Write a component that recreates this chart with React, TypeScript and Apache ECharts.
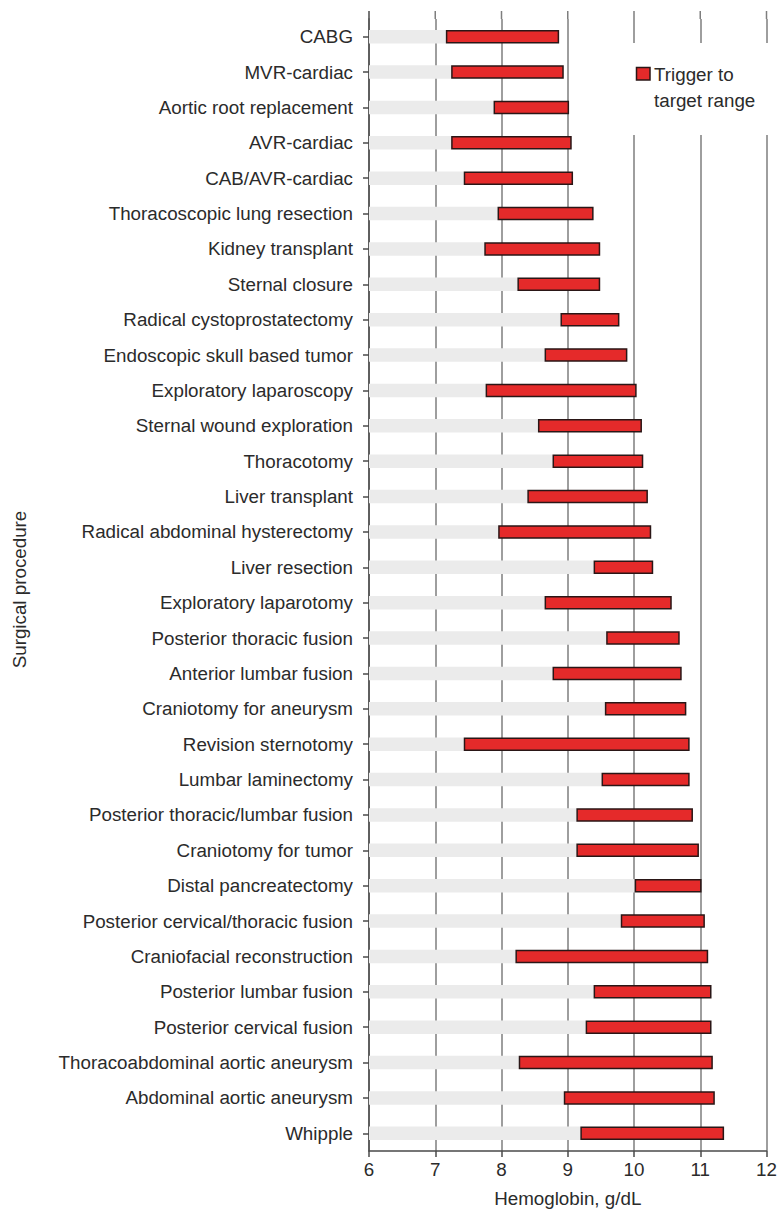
import React, { useEffect, useRef } from "react";
import * as echarts from "echarts";

const categories = [
  "CABG",
  "MVR-cardiac",
  "Aortic root replacement",
  "AVR-cardiac",
  "CAB/AVR-cardiac",
  "Thoracoscopic lung resection",
  "Kidney transplant",
  "Sternal closure",
  "Radical cystoprostatectomy",
  "Endoscopic skull based tumor",
  "Exploratory laparoscopy",
  "Sternal wound exploration",
  "Thoracotomy",
  "Liver transplant",
  "Radical abdominal hysterectomy",
  "Liver resection",
  "Exploratory laparotomy",
  "Posterior thoracic fusion",
  "Anterior lumbar fusion",
  "Craniotomy for aneurysm",
  "Revision sternotomy",
  "Lumbar laminectomy",
  "Posterior thoracic/lumbar fusion",
  "Craniotomy for tumor",
  "Distal pancreatectomy",
  "Posterior cervical/thoracic fusion",
  "Craniofacial reconstruction",
  "Posterior lumbar fusion",
  "Posterior cervical fusion",
  "Thoracoabdominal aortic aneurysm",
  "Abdominal aortic aneurysm",
  "Whipple",
];

// Transfusion trigger (start of range), g/dL
const triggerValues = [
  7.16, 7.24, 7.88, 7.24, 7.43, 7.94, 7.74, 8.24, 8.89, 8.65, 7.76, 8.55, 8.77,
  8.39, 7.95, 9.39, 8.65, 9.58, 8.77, 9.56, 7.43, 9.51, 9.13, 9.13, 10.01, 9.8,
  8.21, 9.39, 9.27, 8.26, 8.94, 9.19,
];

// Target (end of range), g/dL
const targetValues = [
  8.87, 8.94, 9.02, 9.06, 9.08, 9.39, 9.49, 9.49, 9.78, 9.9, 10.04, 10.12,
  10.14, 10.21, 10.26, 10.29, 10.57, 10.69, 10.72, 10.79, 10.84, 10.84, 10.89,
  10.98, 11.02, 11.07, 11.12, 11.17, 11.17, 11.19, 11.22, 11.36,
];

const xMin = 6;
const xMax = 12;
const xInterval = 1;

const legendLabel = "Trigger to\ntarget range";
const xAxisTitle = "Hemoglobin, g/dL";
const yAxisTitle = "Surgical procedure";

const RED = "#e52a2a";
const BORDER = "#2a1616";
const GRAY = "#ebebeb";
const TEXT = "#2b2b2b";
const GRID_LINE = "#7e7e7e";
const AXIS_LINE = "#4a4a4a";
const FONT = "'Liberation Sans', Arial, Helvetica, sans-serif";
const FS = 18.8;

export default function App() {
  const ref = useRef<HTMLDivElement>(null);

  useEffect(() => {
    if (!ref.current) return;
    const chart = echarts.init(ref.current, null, { renderer: "svg" });
    const gridTop = 19;
    const option: any = {
      animation: false,
      backgroundColor: "#ffffff",
      textStyle: { fontFamily: FONT },
      grid: { left: 369, right: 13.5, top: gridTop, bottom: 61.5, containLabel: false },
      xAxis: {
        type: "value",
        min: xMin,
        max: xMax,
        interval: xInterval,
        name: xAxisTitle,
        nameLocation: "middle",
        nameGap: 38,
        nameTextStyle: { fontSize: FS, color: TEXT, fontFamily: FONT },
        axisLine: { show: true, lineStyle: { color: AXIS_LINE, width: 1.5 } },
        axisTick: { show: true, length: 6, lineStyle: { color: AXIS_LINE, width: 1.5 } },
        axisLabel: { fontSize: FS, color: TEXT, margin: 9, fontFamily: FONT },
        splitLine: { show: true, lineStyle: { color: GRID_LINE, width: 1.5 } },
      },
      yAxis: {
        type: "category",
        inverse: true,
        data: categories,
        name: yAxisTitle,
        nameLocation: "middle",
        nameGap: 340,
        nameTextStyle: { fontSize: FS, color: TEXT, fontFamily: FONT, padding: [0, 9, 0, 0] },
        axisLine: { show: true, lineStyle: { color: AXIS_LINE, width: 1.5 } },
        axisTick: { show: true, alignWithLabel: true, length: 6, lineStyle: { color: AXIS_LINE, width: 1.5 } },
        axisLabel: { fontSize: FS, color: TEXT, margin: 16, fontFamily: FONT },
        splitLine: { show: false },
      },
      series: [
        {
          name: "Below trigger",
          type: "bar",
          stack: "range",
          clip: true,
          silent: true,
          barWidth: 13.5,
          data: triggerValues,
          itemStyle: { color: GRAY },
        },
        {
          name: "Trigger to target range",
          type: "bar",
          stack: "range",
          clip: true,
          silent: true,
          barWidth: 13.5,
          data: targetValues.map((t, i) => +(t - triggerValues[i]).toFixed(3)),
          itemStyle: { color: RED, borderColor: BORDER, borderWidth: 1.5 },
        },
      ],
    };
    chart.setOption(option);

    // extend the axis and grid lines slightly above the plot, as in the reference
    const ext: any[] = [];
    for (let v = xMin; v <= xMax; v += xInterval) {
      const px = chart.convertToPixel({ xAxisIndex: 0 }, v) as number;
      ext.push({
        type: "line",
        silent: true,
        shape: { x1: px, y1: 11, x2: px, y2: gridTop },
        style: { stroke: v === xMin ? AXIS_LINE : GRID_LINE, lineWidth: 1.5 },
        z: 1,
      });
    }
    chart.setOption({
      graphic: [
        ...ext,
        {
          type: "group",
          z: 100,
          children: [
            { type: "rect", shape: { x: 627, y: 43, width: 153, height: 92 }, style: { fill: "#ffffff" } },
            {
              type: "rect",
              shape: { x: 636.5, y: 67.5, width: 13.5, height: 12.5 },
              style: { fill: RED, stroke: BORDER, lineWidth: 1.5 },
            },
            {
              type: "text",
              x: 654,
              y: 61,
              style: {
                text: legendLabel,
                fontSize: FS,
                lineHeight: 26,
                fill: TEXT,
                fontFamily: FONT,
                verticalAlign: "top",
                align: "left",
              },
            },
          ],
        },
      ],
    });

    return () => chart.dispose();
  }, []);

  return (
    <div
      ref={ref}
      style={{ position: "absolute", left: 0, top: 0, width: 780, height: 1213, background: "#fff" }}
    />
  );
}
